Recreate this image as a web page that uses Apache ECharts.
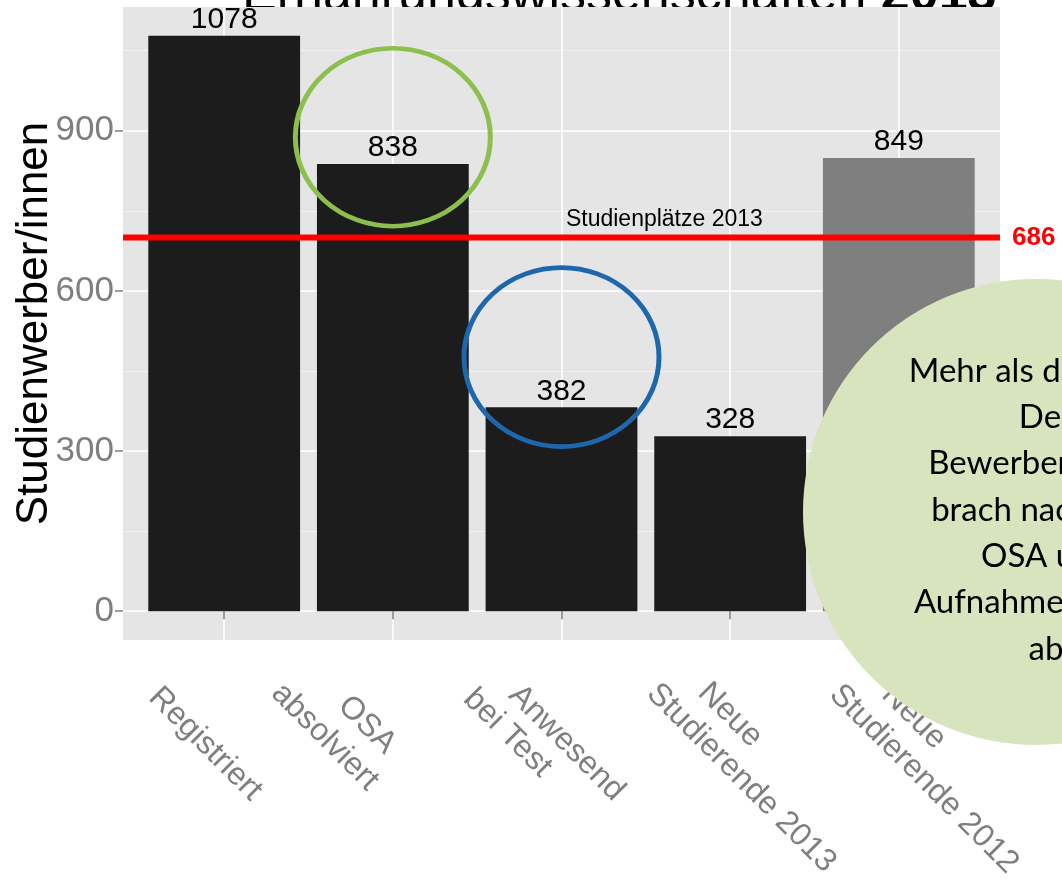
<!DOCTYPE html>
<html><head><meta charset="utf-8">
<script src="https://cdn.jsdelivr.net/npm/echarts@6/dist/echarts.min.js"></script>
<style>html,body{margin:0;padding:0;background:#fff}#c{width:1062px;height:882px}</style>
</head><body><div id="c"></div>
<script>
// ---- data ----
const categories = ['Registriert', 'OSA\nabsolviert', 'Anwesend\nbei Test', 'Neue\nStudierende 2013', 'Neue\nStudierende 2012'];
const values = [1078, 838, 382, 328, 849];
const yTicks = [0, 300, 600, 900];
const yMinorTicks = [150, 450, 750, 1050];
const quotaLine = 700;          // where the red line is drawn
const quotaLabel = '686';
const quotaName = 'Studienplätze 2013';
const yAxisName = 'Studienwerber/innen';
const titleText = 'Ernährungswissenschaften ';
const titleYear = '2013';
const noteLines = ['Mehr als die Hälfte', 'Der', 'Bewerber/innen', 'brach nach dem', 'OSA und', 'Aufnahmeprüfung', 'ab'];
const highlightIndex = 4;       // 2012 bar drawn in grey

// ---- layout / style ----
const n = categories.length;
const xs = categories.map((_, i) => i + 1);
const xMin = 1 - 0.6, xMax = n + 0.6;
const dataMax = Math.max(...values);
const yPad = 0.05 * dataMax;
const sans = '"Liberation Sans", Arial, sans-serif';
const grey = '#7F7F7F';

// x label placement: screen offset of each line's centre from (tick, axis)
const labelLineOffsets = [
  [[-19, 104]],
  [[-26, 85], [-68, 97]],
  [[5, 103], [-54, 93]],
  [[0, 75], [11, 138]],
  [[15, 77], [25, 139]]
];
const labelFont = 32, labelLH = 36, labelMargin = 88;
const rich = {};
const c45 = Math.SQRT1_2;
const uA = labelMargin * c45, vA = labelMargin * c45;
categories.forEach((cat, i) => {
  const lines = cat.split('\n');
  const k = lines.length;
  lines.forEach((ln, j) => {
    const [dx, dy] = labelLineOffsets[i][j];
    const u = (dx + dy) * c45, vd = (dy - dx) * c45;
    const su = u - uA;
    const sv = vd - (vA + (j - (k - 1) / 2) * labelLH);
    rich['l' + i + '_' + j] = {
      fontSize: labelFont, lineHeight: labelLH, color: grey, fontFamily: sans,
      padding: [Math.max(0, 2 * sv), Math.max(0, -2 * su), Math.max(0, -2 * sv), Math.max(0, 2 * su)]
    };
  });
});
const labelFormatter = v => {
  const i = Math.round(v) - 1;
  return categories[i].split('\n').map((ln, j) => '{l' + i + '_' + j + '|' + ln + '}').join('\n');
};

const chart = echarts.init(document.getElementById('c'), null, {renderer: 'canvas'});
const option = {
  animation: false,
  grid: {left: 123, right: 62, top: 7, bottom: 242, show: true, backgroundColor: '#E5E5E5', borderWidth: 0,
    containLabel: false, outerBoundsMode: 'none'},
  xAxis: {
    type: 'value', min: xMin, max: xMax,
    axisLine: {show: false},
    axisTick: {show: true, customValues: xs, length: 8, lineStyle: {color: grey, width: 1.5}},
    axisLabel: {customValues: xs, formatter: labelFormatter, rich: rich, rotate: -45,
      align: 'center', verticalAlign: 'middle', margin: labelMargin, fontSize: labelFont, lineHeight: labelLH,
      color: grey, fontFamily: sans, hideOverlap: false},
    splitLine: {show: true, lineStyle: {color: '#FFFFFF', width: 1.5}}
  },
  yAxis: [{
    type: 'value', min: -yPad, max: dataMax + yPad,
    axisLine: {show: false},
    axisTick: {show: true, customValues: yTicks, length: 8, lineStyle: {color: grey, width: 1.5}},
    axisLabel: {customValues: yTicks, fontSize: 35, color: grey, margin: 9, fontFamily: sans},
    splitLine: {show: true, lineStyle: {color: '#FFFFFF', width: 1.5}},
    name: yAxisName, nameLocation: 'middle', nameGap: 66, nameMoveOverlap: false,
    nameTextStyle: {fontSize: 44, color: '#000', fontFamily: sans}
  }, {
    type: 'value', min: -yPad, max: dataMax + yPad, position: 'left',
    axisLine: {show: false},
    axisTick: {show: false, customValues: yMinorTicks},
    axisLabel: {show: false, customValues: yMinorTicks},
    splitLine: {show: true, lineStyle: {color: '#F2F2F2', width: 1}}
  }],
  series: [{
    type: 'bar', z: 2,
    data: xs.map((x, i) => [x, values[i]]),
    barWidth: '90%',
    itemStyle: {color: p => p.dataIndex === highlightIndex ? grey : '#1C1C1C'},
    label: {show: true, position: 'top', distance: 1, fontSize: 30, color: '#000', fontFamily: sans,
      formatter: p => String(p.value[1])}
  }, {
    type: 'line', z: 3, symbol: 'none', silent: true,
    data: [[xMin, quotaLine], [xMax, quotaLine]],
    lineStyle: {color: '#FF0000', width: 6},
    endLabel: {show: true, formatter: quotaLabel, color: '#FF0000', fontWeight: 'bold', fontSize: 26,
      distance: 12, fontFamily: sans},
    markPoint: {symbol: 'circle', symbolSize: 0, silent: true,
      data: [{coord: [3.61, quotaLine], label: {show: true, position: 'top', distance: 6,
        formatter: quotaName, fontSize: 23, color: '#000', fontFamily: sans}}]}
  }]
};
chart.setOption(option);

const g = chart.convertToPixel({xAxisIndex: 0, yAxisIndex: 0}, [2, 888]);
const b = chart.convertToPixel({xAxisIndex: 0, yAxisIndex: 0}, [3, 476]);
chart.setOption({graphic: [
  {type: 'text', x: 242, y: 22, z: -10, style: {
    text: '{a|' + titleText + '}{b|' + titleYear + '}', verticalAlign: 'bottom',
    rich: {a: {fontSize: 52, fontFamily: sans, fill: '#000'}, b: {fontSize: 52, fontFamily: sans, fontWeight: 'bold', fill: '#000'}}}},
  {type: 'circle', x: g[0], y: g[1], scaleY: 89 / 97.5, z: 50, shape: {cx: 0, cy: 0, r: 97.5},
    style: {fill: 'none', stroke: '#8DBF4E', lineWidth: 5}},
  {type: 'circle', x: b[0], y: b[1], scaleY: 89.5 / 97.5, z: 50, shape: {cx: 0, cy: 0, r: 97.5},
    style: {fill: 'none', stroke: '#1F67AC', lineWidth: 5}},
  {type: 'circle', z: 60, shape: {cx: 1036, cy: 512, r: 233}, style: {fill: '#D7E4BD'}},
  {type: 'text', x: 1046, y: 348, z: 61, style: {text: noteLines.join('\n'), align: 'center', verticalAlign: 'top',
    fontSize: 33, lineHeight: 46.3, fontFamily: 'Lato, "Open Sans", sans-serif', fill: '#000'}}
]});
</script></body></html>
